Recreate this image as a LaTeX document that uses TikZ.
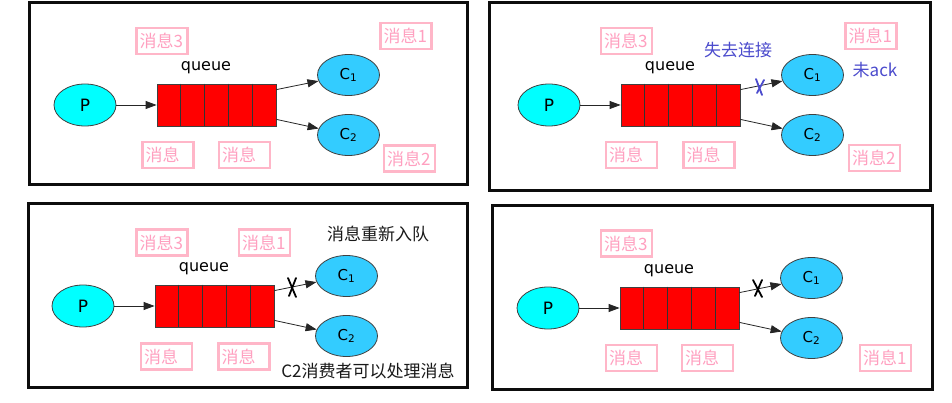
\documentclass[tikz,border=0pt]{standalone}
\usepackage{fontspec}
\setmainfont{DejaVu Sans}
\newfontfamily\cjk{Noto Sans CJK SC}
\usetikzlibrary{shapes.geometric,arrows.meta,calc}
\definecolor{pinkline}{RGB}{255,182,200}
\definecolor{pinktext}{RGB}{255,160,192}
\definecolor{pcyan}{RGB}{0,255,255}
\definecolor{cblue}{RGB}{51,204,255}
\definecolor{lostblue}{RGB}{75,75,205}
\definecolor{qred}{RGB}{255,0,0}
\tikzset{
  panel/.style={draw=black!95, line width=3pt, fill=white},
  prod/.style={ellipse, draw=black!75, line width=0.8pt, fill=pcyan, minimum width=62pt, minimum height=42pt, inner sep=0pt, font=\fontsize{17}{17}\selectfont},
  cons/.style={ellipse, draw=black!75, line width=0.8pt, fill=cblue, minimum width=62pt, minimum height=41pt, inner sep=0pt, font=\fontsize{15}{15}\selectfont},
  queuebox/.style={rectangle, draw=black!75, line width=0.8pt, fill=qred, minimum width=119pt, minimum height=42pt, inner sep=0pt},
  cellline/.style={draw=black!80, line width=0.8pt},
  qlabel/.style={font=\fontsize{16}{16}\selectfont, inner sep=0pt},
  msgbox/.style={draw=pinkline, line width=2.5pt, text=pinktext, text width=45pt, align=left, inner xsep=3pt, inner ysep=0pt, minimum height=26pt, font=\cjk\fontsize{17}{17}\selectfont},
  flow/.style={draw=black!85, line width=0.8pt, -{Triangle[length=11pt,width=8pt]}},
  note/.style={font=\cjk\fontsize{17}{17}\selectfont, inner sep=0pt},
  crossmark/.style={line width=1.8pt, line cap=round},
}
\newcommand\mqflow[3]{%
  \node[prod] (P#1) at (#2,#3) {P};
  \node[queuebox] (Q#1) at ($(P#1)+(131.5,0)$) {};
  \foreach \k in {1,...,4}{
    \draw[cellline] ($(Q#1.north west)!\k/5!(Q#1.north east)$) -- ($(Q#1.south west)!\k/5!(Q#1.south east)$);
  }
  \node[qlabel] (L#1) at ($(Q#1.north)+(-10.5,-15.5)$) {queue};
  \node[cons] (A#1) at ($(P#1)+(263.5,-30)$) {C\textsubscript{1}};
  \node[cons] (B#1) at ($(P#1)+(263.5,30)$) {C\textsubscript{2}};
  \coordinate (QA#1) at ($(Q#1.north east)+(0,6)$);
  \coordinate (QB#1) at ($(Q#1.south east)+(0,-7)$);
  \draw[flow] (P#1) -- (Q#1);
  \draw[flow] (QA#1) -- (A#1);
  \draw[flow] (QB#1) -- (B#1);
}
\begin{document}
\begin{tikzpicture}[x=1pt,y=-1pt]
\useasboundingbox (0,0) rectangle (952,403);
\fill[white] (0,0) rectangle (952,403);
% panels
\draw[panel] (29,3) rectangle (467,185);
\draw[panel] (489,3) rectangle (930,191);
\draw[panel] (28,204) rectangle (467,387);
\draw[panel] (492,206) rectangle (932,389);
% flows
\mqflow{a}{85}{105}
\mqflow{b}{549}{105}
\mqflow{c}{83}{306}
\mqflow{d}{548}{308}
% panel 1 messages
\node[msgbox] (m1a) at (162,41) {消息3};
\node[msgbox] (m1b) at (406,36) {消息1};
\node[msgbox] (m1c) at (168,155) {消息};
\node[msgbox] (m1d) at (244.5,155) {消息};
\node[msgbox] (m1e) at (409.5,158.5) {消息2};
% panel 2 messages
\node[msgbox] (m2a) at (626.5,41) {消息3};
\node[msgbox] (m2b) at (871,36) {消息1};
\node[msgbox] (m2c) at (631.5,155) {消息};
\node[msgbox] (m2d) at (709,155) {消息};
\node[msgbox] (m2e) at (874.5,158) {消息2};
\node[note, text=lostblue] (lost) at (738,50) {失去连接};
\node[note, text=lostblue] (noack) at (875,70) {未ack};
\draw[crossmark, lostblue] (756,79) -- (762,95);
\draw[crossmark, lostblue] (764,80) -- (757,93);
% panel 3 messages
\node[msgbox] (m3a) at (162,242.5) {消息3};
\node[msgbox] (m3b) at (264.5,242.5) {消息1};
\node[msgbox] (m3c) at (166.5,356.5) {消息};
\node[msgbox] (m3d) at (244,356.5) {消息};
\node[note, text=black!90] (requeue) at (378,234) {消息重新入队};
\node[note, text=black!90] (c2ok) at (368,371) {C2消费者可以处理消息};
\draw[crossmark] (288,278) -- (296,297);
\draw[crossmark] (296,278) -- (289,296);
% panel 4 messages
\node[msgbox] (m4a) at (626.5,243.5) {消息3};
\node[msgbox] (m4c) at (631.5,358) {消息};
\node[msgbox] (m4d) at (707.5,358) {消息};
\node[msgbox] (m4e) at (885.5,358) {消息1};
\draw[crossmark] (753,280) -- (762,297);
\draw[crossmark] (762,280) -- (755,296);
\end{tikzpicture}
\end{document}
